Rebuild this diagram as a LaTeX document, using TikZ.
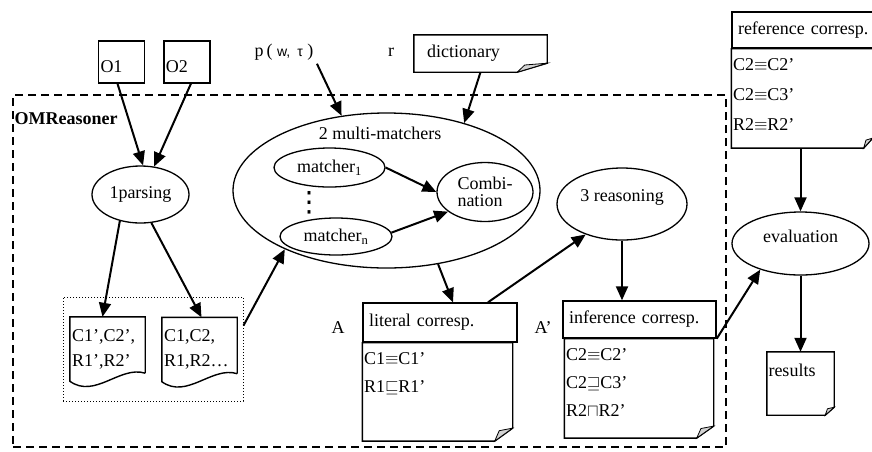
\documentclass[tikz,border=0pt]{standalone}
\usepackage{fontspec}
\setmainfont{Liberation Serif}
\newfontfamily\greeksans{Liberation Sans}
\newfontfamily\dotsfont{DejaVu Sans}
\usetikzlibrary{shapes.geometric,positioning,arrows.meta}

\begin{document}
\begin{tikzpicture}[x=1pt,y=-1pt,>={Triangle[length=14pt,width=12pt]},
	font=\fontsize{18}{21}\selectfont,
	flow/.style={->,line width=2pt},
	oval/.style={ellipse,draw,line width=1.3pt,inner sep=0pt},
	ontbox/.style={rectangle,draw,line width=1.4pt,minimum width=46pt,minimum height=42pt,text width=42pt,text height=21pt,align=left,inner xsep=2pt},
	head/.style={rectangle,draw,line width=1.4pt,minimum height=#1,align=left,inner xsep=6pt},
	notebody/.style={rectangle,inner sep=0pt},
	linetext/.style={align=left,inner xsep=1.5pt,inner ysep=10pt,font=\fontsize{18}{#1}\selectfont},
	docpage/.style={rectangle,minimum width=75pt,minimum height=64pt,text width=71pt,align=left,inner xsep=2pt,font=\fontsize{18}{25}\selectfont}]
	\useasboundingbox (0,0) rectangle (872,451);

	\node[draw,line width=1.3pt,dash pattern=on 8pt off 5pt,minimum width=713pt,minimum height=352pt] (omr) at (369.5,271) {};
	\node[anchor=west] (omrname) at (11,119) {\textbf{OMReasoner}};

	\node[ontbox] (o1) at (121.5,62) {O1};
	\node[ontbox] (o2) [right=18pt of o1] {O2};
	\node[oval,minimum width=97pt,minimum height=57pt] (parse) at (140.5,194.5) {1parsing};

	\node[draw,line width=1pt,dash pattern=on 1pt off 2pt,minimum width=180pt,minimum height=104pt] (docs) at (153,349) {};
	\node[docpage] (doc1) at (107.5,349) {C1’,C2’,\\R1’,R2’};
	\node[docpage] (doc2) at (199.5,349.5) {C1,C2,\\R1,R2…};
	\foreach \d in {doc1,doc2}
		\draw[line width=1.4pt] ([yshift=8pt]\d.south east) -- (\d.north east) -- (\d.north west) -- (\d.south west)
			.. controls ([xshift=25pt,yshift=-18pt]\d.south west) and ([xshift=-25pt,yshift=16pt]\d.south east) .. ([yshift=8pt]\d.south east);

	\node[oval,minimum width=307pt,minimum height=155pt] (mm) at (386.5,190.5) {};
	\node (mmname) at (380,133) {2 multi-matchers};
	\node[oval,minimum width=111pt,minimum height=39pt] (m1) at (329.5,167.5) {matcher\textsubscript{1}};
	\node[oval,minimum width=112pt,minimum height=37pt] (mn) at (336,236.5) {matcher\textsubscript{n}};
	\node[font=\dotsfont\fontsize{28}{28}\selectfont,inner sep=0pt] (vdots) at (309,203) {⋮};
	\node[oval,minimum width=96pt,minimum height=59pt,align=left,font=\fontsize{18}{17}\selectfont] (comb) at (485,192) {Combi-\\nation};

	\node (pw) at (284,52) {p\,( {\greeksans\fontsize{14}{16}\selectfont w,\enspace τ} )};
	\node (r) at (391,52) {r};
	\node[notebody,minimum width=133pt,minimum height=37pt,text width=107pt,align=left,inner xsep=13pt] (dict) at (480.5,53.5) {dictionary};

	\node (a) at (338,328) {A};
	\node[head=39pt,text width=142pt] (lithead) at (440,322.5) {literal corresp.};
	\node[notebody,minimum width=150pt,minimum height=98pt,below=0pt of lithead.south west,anchor=north west] (litbody) {};
	\node[linetext=28pt,anchor=north west] (littxt) at (litbody.north west) {C1$\equiv$C1’\\R1$\sqsubseteq$R1’};

	\node[oval,minimum width=130pt,minimum height=72pt,text depth=16pt] (rs) at (622,204) {3 reasoning};

	\node (a2) at (543,328) {A’};
	\node[head=37pt,text width=141pt] (infhead) at (639.5,319.5) {inference corresp.};
	\node[notebody,minimum width=149pt,minimum height=99pt,below=0pt of infhead.south west,anchor=north west,xshift=2pt] (infbody) {};
	\node[linetext=28pt,anchor=north west] (inftxt) at (infbody.north west) {C2$\equiv$C2’\\C2$\sqsupseteq$C3’\\R2$\sqcap$R2’};

	\node[head=36pt,text width=132pt] (refhead) at (804,30) {reference corresp.};
	\node[notebody,minimum width=141pt,minimum height=99pt,below=0pt of refhead.south west,anchor=north west] (refbody) {};
	\node[linetext=30pt,anchor=north west] (reftxt) at (refbody.north west) {C2$\equiv$C2’\\C2$\equiv$C3’\\R2$\equiv$R2’};

	\node[oval,minimum width=137pt,minimum height=63pt,text depth=15pt] (ev) at (800.5,243.5) {evaluation};
	\node[notebody,minimum width=67pt,minimum height=63pt] (res) at (800.5,383.5) {};
	\node[linetext=21pt,anchor=north west,inner ysep=12pt] (restxt) at (res.north west) {results};

	\foreach \n/\fw/\fh in {dict/30pt/9pt,litbody/18pt/13pt,infbody/17pt/12pt,refbody/9pt/10pt,res/9pt/8pt} {
		\draw[line width=1.4pt] (\n.north west) -- (\n.north east) -- ([yshift=\fh]\n.south east) -- ([xshift=-\fw]\n.south east) -- (\n.south west) -- cycle;
		\filldraw[fill=gray!35,line width=0.8pt] ([yshift=\fh]\n.south east) -- ([xshift=-\fw]\n.south east) -- ([xshift=-0.75*\fw,yshift=0.8*\fh]\n.south east) -- cycle;
	}

	\draw[flow] ([xshift=-4pt]o1.south) -- (parse.85);
	\draw[flow] ([xshift=4pt]o2.south) -- (parse.64);
	\draw[flow] (parse.232) -- ([xshift=-5pt]doc1.north);
	\draw[flow] (parse.291) -- ([xshift=2pt]doc2.north);
	\draw[flow] ([yshift=-29pt]docs.north east) -- (mm.210);
	\draw[flow] (pw.south east) -- (mm.121);
	\draw[flow] (dict.south) -- (mm.41);
	\draw[flow] (m1.east) -- (comb.west);
	\draw[flow] (mn.4) -- (comb.208);
	\draw[flow] (mm.305) -- ([xshift=13pt]lithead.north);
	\draw[flow] ([xshift=48pt]lithead.north) -- (rs.220);
	\draw[flow] (rs.south) -- (rs.south |- infhead.north);
	\draw[flow] (infhead.south east) -- (ev.213);
	\draw[flow] (ev.north |- refbody.south) -- (ev.north);
	\draw[flow] (ev.south) -- (res.north);
\end{tikzpicture}
\end{document}
